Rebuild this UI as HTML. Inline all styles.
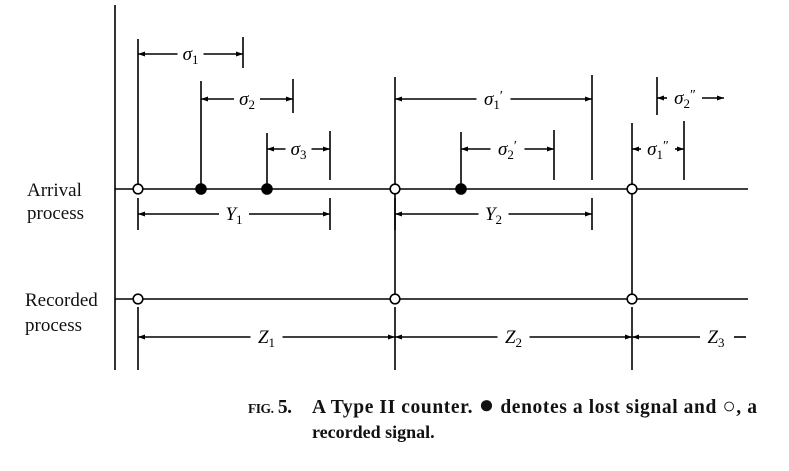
<!DOCTYPE html>
<html><head><meta charset="utf-8">
<style>
html,body{margin:0;padding:0;background:#fff;}
svg{display:block;font-family:"Liberation Serif",serif;}
</style></head>
<body>
<svg id="fig" width="789" height="471" viewBox="0 0 789 471" xmlns="http://www.w3.org/2000/svg">
<defs>
<marker id="ah" viewBox="0 0 10 10" refX="10" refY="5" markerWidth="9" markerHeight="7" orient="auto-start-reverse" markerUnits="userSpaceOnUse">
<path d="M0,1.5 L10,5 L0,8.5 z" fill="#000"/>
</marker>
</defs>
<g id="lines" stroke="#000" stroke-width="1.6" fill="none"></g>
<g id="labels" font-style="italic" font-size="19" fill="#000"></g>
<g font-size="19" fill="#111">
<text x="27" y="196">Arrival</text>
<text x="27" y="219">process</text>
<text x="25" y="306">Recorded</text>
<text x="25" y="331">process</text>
</g>
<g font-size="19.5" font-weight="bold" fill="#111">
<text x="248" y="413" textLength="44" lengthAdjust="spacing"><tspan font-size="13.5">FIG.</tspan> 5.</text>
<text x="312" y="413" textLength="445" lengthAdjust="spacing">A Type II counter. <tspan font-size="26">●</tspan> denotes a lost signal and <tspan font-weight="normal" font-size="22">○</tspan>, a</text>
<text x="312" y="438" font-size="18">recorded signal.</text>
</g>
<g id="dots"></g>
</svg>
<script>
// event times (x positions along time axis, in diagram units)
const arrivalTimes = [138, 201, 267, 395, 461, 632];
const arrivalRecorded = [true, false, false, true, false, true];
const deadEnds = [243, 293, 330, 592, 554, 684];
const axisTop = 5, axisBottom = 370, axisX = 115, lineEnd = 748;
const arrivalY = 189, recordedY = 299, zY = 337;
const NS = "http://www.w3.org/2000/svg";
const L = document.getElementById('lines'), T = document.getElementById('labels'), D = document.getElementById('dots');
function ln(x1,y1,x2,y2,name,arr){
  const e=document.createElementNS(NS,'line');
  e.setAttribute('x1',x1);e.setAttribute('y1',y1);e.setAttribute('x2',x2);e.setAttribute('y2',y2);
  
  
  if(arr==='both'){e.setAttribute('marker-start','url(#ah)');e.setAttribute('marker-end','url(#ah)');}
  else if(arr==='start'){e.setAttribute('marker-start','url(#ah)');}
  else if(arr==='end'){e.setAttribute('marker-end','url(#ah)');}
  L.appendChild(e);
}
function label(x,y,main,sub,prime,name){
  const t=document.createElementNS(NS,'text');
  t.setAttribute('x',x);t.setAttribute('y',y);t.setAttribute('text-anchor','middle');
  
  
  t.innerHTML=main+'<tspan font-style="normal" font-size="13" dy="4">'+sub+'</tspan>'+(prime?'<tspan font-style="normal" font-size="14" dy="-9">'+prime+'</tspan>':'');
  T.appendChild(t);
}
function dim(x1,x2,y,lab,sub,prime,name,labW){
  const m=(x1+x2)/2, w=labW||20;
  ln(x1,y,m-w/2-3,y,name+'-left','start');
  ln(m+w/2+3,y,x2,y,name+'-right','end');
  label(m,y+6,lab,sub,prime,name+'-label');
}
ln(axisX,axisTop,axisX,axisBottom,'time-axis');
ln(axisX,arrivalY,lineEnd,arrivalY,'arrival-line');
ln(axisX,recordedY,lineEnd,recordedY,'recorded-line');
const sigTop=[39,81,133,77,132,123], sigY=[54,99,149,99,149,149];
const sigLab=[['σ','1',''],['σ','2',''],['σ','3',''],['σ','1','′'],['σ','2','′'],['σ','1','″']];
for(let i=0;i<arrivalTimes.length;i++){
  const x=arrivalTimes[i], e=deadEnds[i];
  ln(x,sigTop[i],x,arrivalY,'event-tick-'+i);
  ln(e,sigTop[i]-2,e,i===0?68:(i===1?113:180),'dead-end-tick-'+i);
  dim(x,e,sigY[i],sigLab[i][0],sigLab[i][1],sigLab[i][2],'sigma-'+i,sigLab[i][2]?28:20);
}
ln(657,77,657,115,'sigma2pp-tick');
ln(657,98,667,98,'sigma2pp-left','start');
ln(702,98,724,98,'sigma2pp-right','end');
label(685,104,'σ','2','″','sigma2pp-label');
const rec=arrivalTimes.filter((t,i)=>arrivalRecorded[i]);
const yEnds=[330,592];
for(let k=0;k<yEnds.length;k++){
  ln(rec[k],198,rec[k],230,'y-left-tick-'+k);
  ln(yEnds[k],198,yEnds[k],230,'y-right-tick-'+k);
  dim(rec[k],yEnds[k],214,'Y',String(k+1),'','y-'+k,24);
}
for(let k=1;k<rec.length;k++) ln(rec[k],arrivalY,rec[k],recordedY,'link-'+k);
for(let k=0;k<rec.length;k++) ln(rec[k],recordedY+8,rec[k],370,'z-tick-'+k);
for(let k=0;k<rec.length-1;k++) dim(rec[k],rec[k+1],zY,'Z',String(k+1),'','z-'+k,26);
ln(rec[2],zY,700,zY,'z3-left','start');
ln(734,zY,746,zY,'z3-right');
label(716,zY+6,'Z','3','','z3-label');
function circ(x,y,filled,name){
  const c=document.createElementNS(NS,'circle');
  c.setAttribute('cx',x);c.setAttribute('cy',y);c.setAttribute('r',filled?5:4.8);
  c.setAttribute('fill',filled?'#000':'#fff');c.setAttribute('stroke','#000');c.setAttribute('stroke-width','1.6');
  
  
  D.appendChild(c);
}
arrivalTimes.forEach((t,i)=>circ(t,arrivalY,!arrivalRecorded[i],arrivalRecorded[i]?'recorded-arrival':'lost-signal'));
rec.forEach(t=>circ(t,recordedY,false,'recorded-signal'));
</script>
</body></html>
